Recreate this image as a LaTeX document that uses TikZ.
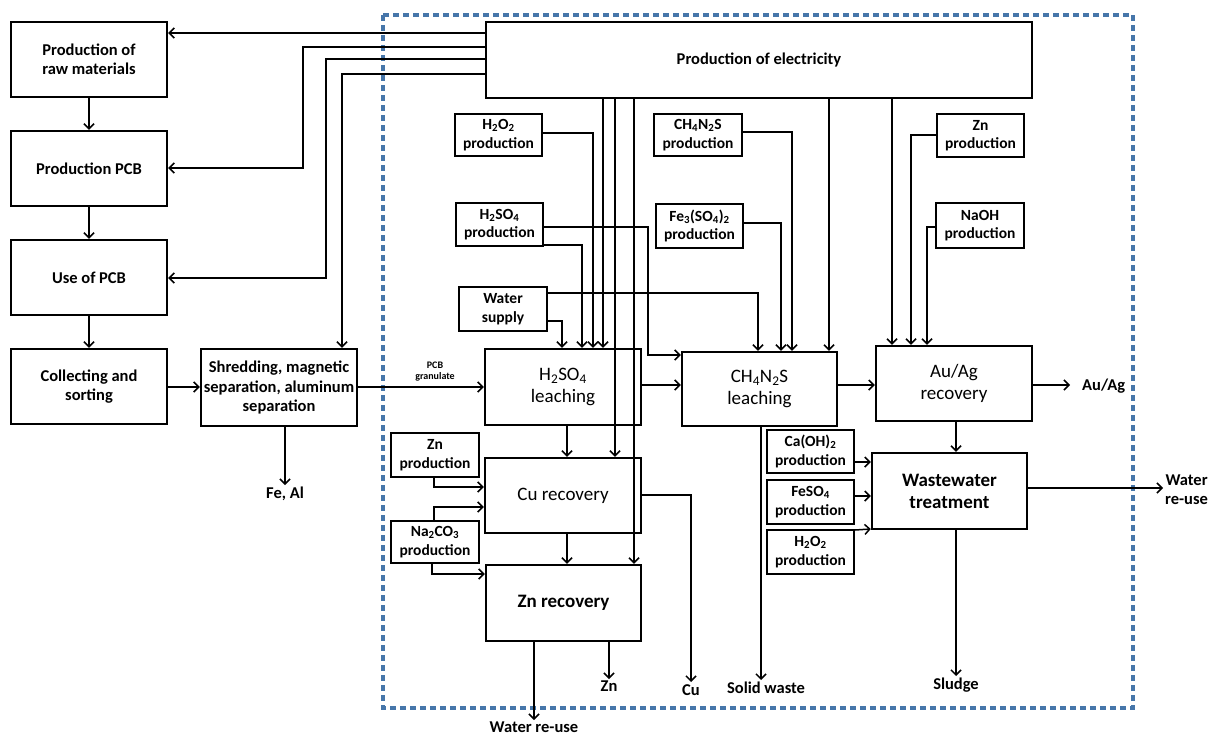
\documentclass[tikz,border=0pt]{standalone}
\usepackage{fontspec}
\setmainfont{Carlito}
\usetikzlibrary{arrows.meta}
\definecolor{dashblue}{RGB}{70,118,170}
\begin{document}
\begin{tikzpicture}[x=1pt,y=-1pt,
  box/.style={draw, line width=2.4pt, align=center, inner sep=0pt, font=\fontsize{16.5}{19.5}\selectfont\bfseries},
  sbox/.style={draw, line width=1.9pt, align=center, inner sep=0pt, font=\fontsize{15.5}{18.5}\selectfont\bfseries},
  pbox/.style={draw, line width=2.4pt, align=center, inner sep=0pt, font=\fontsize{19}{22}\selectfont},
  pboxb/.style={pbox, font=\fontsize{19}{22}\selectfont\bfseries},
  lab/.style={font=\fontsize{16.5}{19}\selectfont\bfseries, inner sep=2pt, align=center},
  arr/.style={line width=1.5pt, -{Straight Barb[length=5pt,width=10pt,line width=1.5pt]}},
  ln/.style={line width=1.5pt}]
\useasboundingbox (0,0) rectangle (1211,736);
% system boundary
\draw[dashblue, line width=4.5pt, dash pattern=on 6pt off 4pt] (383,15) rectangle (1133,708);

% left column
\node[box, minimum width=156pt, minimum height=75pt] (raw) at (89,59.5) {Production of\\raw materials};
\node[box, minimum width=156pt, minimum height=75pt] (pcb) at (89,168.5) {Production PCB};
\node[box, minimum width=156pt, minimum height=75pt] (use) at (89,277.5) {Use of PCB};
\node[box, minimum width=156pt, minimum height=75pt] (coll) at (89,386.5) {Collecting and\\sorting};
\node[box, minimum width=156pt, minimum height=77pt] (shred) at (279,387.5) {Shredding, magnetic\\separation, aluminum\\separation};

% electricity
\node[box, minimum width=546pt, minimum height=76pt] (elec) at (759,60) {Production of electricity};

% small production boxes
\node[sbox, minimum width=87pt, minimum height=42pt] (h2o2p) at (498.5,135) {H\textsubscript{2}O\textsubscript{2}\\production};
\node[sbox, minimum width=87pt, minimum height=43pt] (h2so4p) at (499.5,224.5) {H\textsubscript{2}SO\textsubscript{4}\\production};
\node[sbox, minimum width=88pt, minimum height=42pt] (ch4p) at (698,135) {CH\textsubscript{4}N\textsubscript{2}S\\production};
\node[sbox, minimum width=87pt, minimum height=44pt] (fep) at (699.5,226) {Fe\textsubscript{3}(SO\textsubscript{4})\textsubscript{2}\\production};
\node[sbox, minimum width=87pt, minimum height=43pt] (znp1) at (980.5,135.5) {Zn\\production};
\node[sbox, minimum width=88pt, minimum height=45pt] (naohp) at (980,225.5) {NaOH\\production};
\node[sbox, minimum width=88pt, minimum height=44pt] (water) at (503,309) {Water\\supply};
\node[sbox, minimum width=88pt, minimum height=44pt] (znp2) at (435,455) {Zn\\production};
\node[sbox, minimum width=88pt, minimum height=42pt] (nap) at (435,542) {Na\textsubscript{2}CO\textsubscript{3}\\production};
\node[sbox, minimum width=87pt, minimum height=43pt] (cap) at (810.5,451.5) {Ca(OH)\textsubscript{2}\\production};
\node[sbox, minimum width=87pt, minimum height=44pt] (fesp) at (810.5,502) {FeSO\textsubscript{4}\\production};
\node[sbox, minimum width=87pt, minimum height=44pt] (h2o2q) at (810.5,552) {H\textsubscript{2}O\textsubscript{2}\\production};

% process boxes
\node[pbox, minimum width=156pt, minimum height=76pt] (h2l) at (563,387) {H\textsubscript{2}SO\textsubscript{4}\\leaching};
\node[pbox, minimum width=155pt, minimum height=74pt] (chl) at (759.5,389) {CH\textsubscript{4}N\textsubscript{2}S\\leaching};
\node[pbox, minimum width=156pt, minimum height=75pt] (aul) at (954,383.5) {Au/Ag\\recovery};
\node[pbox, minimum width=156pt, minimum height=75pt] (cur) at (563,495.5) {Cu recovery};
\node[pboxb, minimum width=155pt, minimum height=76pt] (znr) at (563.5,603) {Zn recovery};
\node[pboxb, minimum width=155pt, minimum height=76pt] (ww) at (949.5,491) {Wastewater\\treatment};

% output labels
\node[lab, anchor=north] (feal) at (285,485) {Fe, Al};
\node[lab, anchor=west] (auag) at (1080,386) {Au/Ag};
\node[lab, anchor=west] (wre) at (1163,490) {Water\\re-use};
\node[lab, anchor=north] (sludge) at (956,676) {Sludge};
\node[lab, anchor=north] (solid) at (766,680) {Solid waste};
\node[lab, anchor=north] (cu) at (691,682) {Cu};
\node[lab, anchor=north] (zn) at (609,679) {Zn};
\node[lab, anchor=north] (wre2) at (534,720) {Water re-use};
\node[font=\fontsize{10}{11}\selectfont\bfseries, align=center, inner sep=0pt] (gran) at (435,372) {PCB\\granulate};

% electricity to left column
\draw[arr] (elec.west |- 0,33) -- (raw.east |- 0,33);
\draw[arr] (elec.west |- 0,47) -| (303,168) -- (pcb.east |- 0,168);
\draw[arr] (elec.west |- 0,59) -| (326,278) -- (use.east |- 0,278);
\draw[arr] (elec.west |- 0,74) -| (shred.north -| 342,0);

% left column chain
\draw[arr] (raw.south) -- (pcb.north);
\draw[arr] (pcb.south) -- (use.north);
\draw[arr] (use.south) -- (coll.north);
\draw[arr] (coll.east |- 0,387) -- (shred.west |- 0,387);
\draw[arr] (shred.south -| 285,0) -- (feal.north);
\draw[arr] (shred.east |- 0,387) -- (h2l.west |- 0,387);

% inputs to H2SO4 leaching
\draw[arr] (water.east |- 0,321) -| (h2l.north -| 562,0);
\draw[arr] (h2so4p.east |- 0,245) -| (h2l.north -| 582,0);
\draw[arr] (h2o2p.east |- 0,133) -| (h2l.north -| 593,0);
\draw[arr] (elec.south -| 603,0) -- (h2l.north -| 603,0);
\draw[arr] (elec.south -| 615,0) -- (cur.north -| 615,0);
\draw[arr] (elec.south -| 634,0) -- (znr.north -| 634,0);

% inputs to CH4N2S leaching
\draw[arr] (h2so4p.east |- 0,227) -| (648,355) -- (chl.west |- 0,355);
\draw[arr] (water.east |- 0,293) -| (chl.north -| 758,0);
\draw[arr] (fep.east |- 0,223) -| (chl.north -| 781,0);
\draw[arr] (ch4p.east |- 0,132) -| (chl.north -| 792,0);
\draw[arr] (elec.south -| 829,0) -- (chl.north -| 829,0);

% inputs to Au/Ag recovery
\draw[arr] (elec.south -| 892,0) -- (aul.north -| 892,0);
\draw[arr] (znp1.west |- 0,135) -| (aul.north -| 911,0);
\draw[arr] (naohp.west |- 0,227) -| (aul.north -| 927,0);

% main chain
\draw[arr] (h2l.east |- 0,385) -- (chl.west |- 0,385);
\draw[arr] (chl.east |- 0,385) -- (aul.west |- 0,385);
\draw[arr, shorten >=10pt] (aul.east |- 0,385) -- (auag.west |- 0,385);
\draw[arr] (aul.south -| 956,0) -- (ww.north -| 956,0);
\draw[arr] (h2l.south -| 567,0) -- (cur.north -| 567,0);
\draw[arr] (cur.south -| 567,0) -- (znr.north -| 567,0);

% Cu / Zn recovery inputs
\draw[arr] (znp2.south -| 434,0) |- (cur.west |- 0,487);
\draw[arr] (nap.north -| 434,0) |- (cur.west |- 0,507);
\draw[arr] (nap.south -| 432,0) |- (znr.west |- 0,574);

% outputs
\draw[arr] (cur.east |- 0,495) -| (cu.north);
\draw[arr] (znr.south -| 609,0) -- (zn.north);
\draw[arr] (znr.south -| 534,0) -- (wre2.north);
\draw[arr] (chl.south -| 761,0) -- (solid.north -| 761,0);
\draw[arr] (ww.south -| 956,0) -- (sludge.north);
\draw[arr] (ww.east |- 0,488) -- (wre.west |- 0,488);

% wastewater inputs
\draw[arr] (cap.east |- 0,462) -- (ww.west |- 0,462);
\draw[arr] (fesp.east |- 0,496) -- (ww.west |- 0,496);
\draw[arr] (h2o2q.east |- 0,530) -- (ww.west |- 0,529);
\end{tikzpicture}
\end{document}
